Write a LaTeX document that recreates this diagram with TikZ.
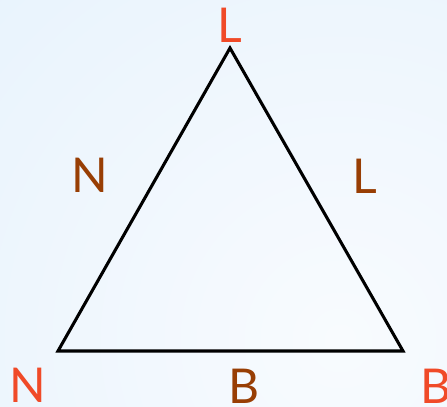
\documentclass[tikz,border=0pt]{standalone}
\usepackage{fontspec}
\setmainfont{Lato}
\usetikzlibrary{positioning}
\definecolor{vertexred}{RGB}{240,74,40}
\definecolor{sidebrown}{RGB}{152,62,4}
\definecolor{bgblue}{RGB}{218,236,252}
\definecolor{bglight}{RGB}{248,251,254}
\tikzset{
  vlabel/.style={text=vertexred,inner sep=0pt,font=\fontsize{36}{40}\selectfont},
  slabel/.style={text=sidebrown,inner sep=0pt,font=\fontsize{36}{40}\selectfont},
  edge/.style={line width=2.3pt,line join=miter}
}

\begin{document}
\begin{tikzpicture}[x=0.75pt,y=-0.75pt]

% background
\begin{scope}
  \clip (0,0) rectangle (447,407);
  \shade[inner color=bglight,outer color=bgblue] (340,340) circle (960);
\end{scope}
\useasboundingbox (0,0) rectangle (447,407);

\coordinate (top) at (230,48);
\coordinate (left) at (58,351);
\coordinate (right) at (403,351);

\draw[edge] (top) -- (right) -- (left) -- cycle;

% vertices
\node[vlabel] (ltop) at (230,25) {L};
\node[vlabel] (nleft) at (28,385) {N};
\node[vlabel] (bright) at (436,386) {B};

% sides
\node[slabel] (nside) at (90,175) {N};
\node[slabel] (lside) at (365,176) {L};
\node[slabel] (bside) at (244,386) {B};

\end{tikzpicture}
\end{document}
